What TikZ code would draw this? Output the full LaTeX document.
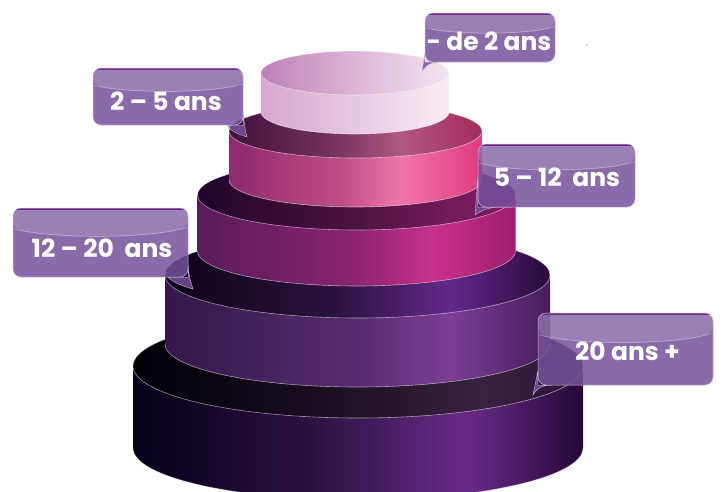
\documentclass[tikz,border=0pt]{standalone}
\usepackage{fontspec}
\newfontfamily\agefont{Poppins}
\usetikzlibrary{calc}

% couleurs des etages (a gauche -> a droite)
\definecolor{t1sa}{HTML}{D6A6D0}\definecolor{t1sb}{HTML}{EBCFE5}\definecolor{t1sc}{HTML}{F8ECF4}
\definecolor{t1ta}{HTML}{BE80B8}\definecolor{t1tb}{HTML}{DDB5D6}\definecolor{t1tc}{HTML}{F3E4EF}
\definecolor{t2sa}{HTML}{8E2A6F}\definecolor{t2sb}{HTML}{BE4C86}\definecolor{t2sc}{HTML}{F076A8}\definecolor{t2sd}{HTML}{E13B7F}
\definecolor{t2ta}{HTML}{40103A}\definecolor{t2tb}{HTML}{7A3562}\definecolor{t2tc}{HTML}{B0587F}\definecolor{t2td}{HTML}{A22B5E}
\definecolor{t3sa}{HTML}{5A1A5C}\definecolor{t3sb}{HTML}{8C2472}\definecolor{t3sc}{HTML}{C9318F}\definecolor{t3sd}{HTML}{A01E6E}
\definecolor{t3ta}{HTML}{22042A}\definecolor{t3tb}{HTML}{4E1242}\definecolor{t3tc}{HTML}{741A5C}\definecolor{t3td}{HTML}{801A60}
\definecolor{t4sa}{HTML}{33174A}\definecolor{t4sb}{HTML}{592B70}\definecolor{t4sc}{HTML}{7C3E94}\definecolor{t4sd}{HTML}{481E5E}
\definecolor{t4ta}{HTML}{0C0416}\definecolor{t4tb}{HTML}{2C1240}\definecolor{t4tc}{HTML}{64288A}\definecolor{t4td}{HTML}{2A0A3C}
\definecolor{t5sa}{HTML}{04001A}\definecolor{t5sb}{HTML}{2C1242}\definecolor{t5sc}{HTML}{6A2A88}\definecolor{t5sd}{HTML}{26083A}
\definecolor{t5ta}{HTML}{000006}\definecolor{t5tb}{HTML}{1C1024}\definecolor{t5tc}{HTML}{38223E}\definecolor{t5td}{HTML}{2C1238}
\definecolor{labelfill}{HTML}{76519A}
\definecolor{labeltop}{HTML}{6A2A86}
\definecolor{labeledge}{HTML}{CDB6DD}

% la zone visible d'une ombre va de 25bp a 75bp
\pgfdeclarehorizontalshading{side1}{100bp}{color(0bp)=(t1sa); color(25bp)=(t1sa); color(55bp)=(t1sb); color(75bp)=(t1sc); color(100bp)=(t1sc)}
\pgfdeclarehorizontalshading{top1}{100bp}{color(0bp)=(t1ta); color(25bp)=(t1ta); color(50bp)=(t1tb); color(75bp)=(t1tc); color(100bp)=(t1tc)}
\pgfdeclarehorizontalshading{side2}{100bp}{color(0bp)=(t2sa); color(25bp)=(t2sa); color(47bp)=(t2sb); color(59bp)=(t2sc); color(75bp)=(t2sd); color(100bp)=(t2sd)}
\pgfdeclarehorizontalshading{top2}{100bp}{color(0bp)=(t2ta); color(25bp)=(t2ta); color(47bp)=(t2tb); color(59bp)=(t2tc); color(75bp)=(t2td); color(100bp)=(t2td)}
\pgfdeclarehorizontalshading{side3}{100bp}{color(0bp)=(t3sa); color(25bp)=(t3sa); color(50bp)=(t3sb); color(62bp)=(t3sc); color(75bp)=(t3sd); color(100bp)=(t3sd)}
\pgfdeclarehorizontalshading{top3}{100bp}{color(0bp)=(t3ta); color(25bp)=(t3ta); color(50bp)=(t3tb); color(65bp)=(t3tc); color(75bp)=(t3td); color(100bp)=(t3td)}
\pgfdeclarehorizontalshading{side4}{100bp}{color(0bp)=(t4sa); color(25bp)=(t4sa); color(50bp)=(t4sb); color(62bp)=(t4sc); color(75bp)=(t4sd); color(100bp)=(t4sd)}
\pgfdeclarehorizontalshading{top4}{100bp}{color(0bp)=(t4ta); color(25bp)=(t4ta); color(47bp)=(t4tb); color(62bp)=(t4tc); color(75bp)=(t4td); color(100bp)=(t4td)}
\pgfdeclarehorizontalshading{side5}{100bp}{color(0bp)=(t5sa); color(25bp)=(t5sa); color(45bp)=(t5sb); color(62bp)=(t5sc); color(75bp)=(t5sd); color(100bp)=(t5sd)}
\pgfdeclarehorizontalshading{top5}{100bp}{color(0bp)=(t5ta); color(25bp)=(t5ta); color(47bp)=(t5tb); color(64bp)=(t5tc); color(75bp)=(t5td); color(100bp)=(t5td)}

\tikzset{
  rim/.style={draw=white, draw opacity=0.55, line width=0.6pt},
  agebox/.style={rounded corners=8pt, fill=labelfill, fill opacity=0.85, draw=labeledge, line width=0.5pt, inner sep=0pt,
    path picture={
      \fill[white, opacity=0.14] (path picture bounding box.north west)
        -- ($(path picture bounding box.north west)!0.3!(path picture bounding box.south west)$)
        .. controls ($(path picture bounding box.north west)!0.45!(path picture bounding box.south)$)
        and ($(path picture bounding box.north east)!0.45!(path picture bounding box.south)$)
        .. ($(path picture bounding box.north east)!0.28!(path picture bounding box.south east)$)
        -- (path picture bounding box.north east) -- cycle;
      \draw[white, opacity=0.4, line width=0.5pt]
        ($(path picture bounding box.north west)!0.3!(path picture bounding box.south west)$)
        .. controls ($(path picture bounding box.north west)!0.45!(path picture bounding box.south)$)
        and ($(path picture bounding box.north east)!0.45!(path picture bounding box.south)$)
        .. ($(path picture bounding box.north east)!0.28!(path picture bounding box.south east)$);
      \draw[labeltop, opacity=1, line width=4pt] (path picture bounding box.north west) -- (path picture bounding box.north east);
    }},
  agetail/.style={fill=labelfill, fill opacity=0.85, draw=labeledge, line width=0.4pt},
  agetext/.style={text=white, text opacity=1, inner sep=0pt, font=\agefont\bfseries\fontsize{25}{30}\selectfont}
}

\begin{document}
\begin{tikzpicture}[x=1pt,y=-1pt]
  \useasboundingbox (0,0) rectangle (723,491);
  \clip (0,0) rectangle (723,491);
  % etages, du bas vers le haut
  \foreach \cx/\ya/\yb/\rx/\ry/\n in {358/366/448/225/52/5,357.5/275/344/192.5/43/4,356.5/195/251/159/35/3,355.5/131/180/126.5/27/2,355/73/112/94/22/1}{
    \shade[shading=side\n] (\cx-\rx,\ya) -- (\cx-\rx,\yb) arc[start angle=180,end angle=0,x radius=\rx,y radius=\ry] -- (\cx+\rx,\ya) -- cycle;
    \draw[rim] (\cx-\rx,\yb) arc[start angle=180,end angle=0,x radius=\rx,y radius=\ry];
    \shade[shading=top\n] (\cx,\ya) ellipse[x radius=\rx,y radius=\ry];
    \draw[rim] (\cx,\ya) ellipse[x radius=\rx,y radius=\ry];
  }
  \fill[gray!70] (587,45) circle[radius=0.8];

  % bulles
  \path (490,37.5) coordinate (c1) (168,96.5) coordinate (c2) (556.5,175.5) coordinate (c3)
        (100.5,242.5) coordinate (c4) (625.5,349) coordinate (c5);
  \node[minimum width=130pt, minimum height=49pt, inner sep=0pt] (b1) at (c1) {};
  \node[minimum width=150pt, minimum height=57pt, inner sep=0pt] (b2) at (c2) {};
  \node[minimum width=157pt, minimum height=63pt, inner sep=0pt] (b3) at (c3) {};
  \node[minimum width=175pt, minimum height=69pt, inner sep=0pt] (b4) at (c4) {};
  \node[minimum width=175pt, minimum height=72pt, inner sep=0pt] (b5) at (c5) {};
  \coordinate (tip1) at (422,72);
  \coordinate (tip2) at (247,137);
  \coordinate (tip3) at (475,215);
  \coordinate (tip4) at (193,289);
  \coordinate (tip5) at (533,395);
  \fill[agetail] ([yshift=8pt]b1.south west) -- (tip1) .. controls (425,66) and (429,63) .. ([xshift=12pt]b1.south west) -- (b1.south west) -- cycle;
  \fill[agetail] ([xshift=-16pt]b2.south east) .. controls (230,131) and (238,134) .. (tip2) .. controls (245,130) and (244,122) .. ([yshift=12pt]b2.south east) -- (b2.south east) -- cycle;
  \fill[agetail] ([yshift=30pt]b3.south west) -- (tip3) .. controls (485,207) and (500,206) .. ([xshift=34pt]b3.south west) -- (b3.south west) -- cycle;
  \fill[agetail] ([xshift=-20pt]b4.south east) .. controls (175,284) and (186,287) .. (tip4) .. controls (190,280) and (188,272) .. ([yshift=12pt]b4.south east) -- (b4.south east) -- cycle;
  \fill[agetail] ([yshift=14pt]b5.south west) -- (tip5) .. controls (537,388) and (542,385) .. ([xshift=14pt]b5.south west) -- (b5.south west) -- cycle;
  \foreach \i/\w/\h in {1/130/49,2/150/57,3/157/63,4/175/69,5/175/72}
    \node[agebox, minimum width=\w pt, minimum height=\h pt] at (c\i) {};

  \node[agetext] (a1) at ([xshift=-1pt,yshift=-4pt]b1.center) {- de 2 ans};
  \node[agetext] (a2) at ([xshift=-2pt,yshift=-5pt]b2.center) {2 – 5 ans};
  \node[agetext] (a3) at ([xshift=0.5pt,yshift=-2pt]b3.center) {5 – 12~~ans};
  \node[agetext] (a4) at ([xshift=1.5pt,yshift=-6pt]b4.center) {12 – 20~~ans};
  \node[agetext] (a5) at ([xshift=2pt,yshift=-2.5pt]b5.center) {20 ans +};
\end{tikzpicture}
\end{document}
